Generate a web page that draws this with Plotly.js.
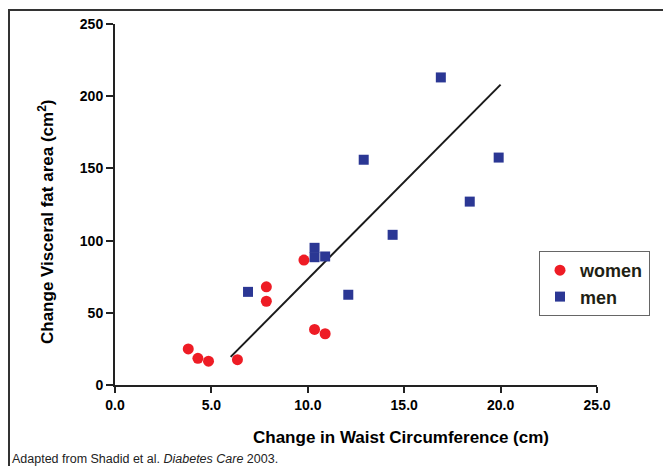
<!DOCTYPE html>
<html><head><meta charset="utf-8">
<script src="https://cdn.plot.ly/plotly-3.0.1.min.js"></script>
<style>html,body{margin:0;padding:0;background:#fff;}#chart{width:663px;height:466px;}</style>
</head><body><div id="chart"></div>
<script>
const womenX = [3.8, 4.3, 4.85, 6.35, 7.85, 7.85, 9.8, 10.35, 10.9];
const womenY = [25, 18.5, 16.5, 17.5, 68, 58, 86.5, 38.5, 35.5];
const menX = [6.9, 10.35, 10.35, 10.9, 12.1, 12.9, 14.4, 16.9, 18.4, 19.9];
const menY = [64.5, 95, 88.5, 89, 62.5, 156, 104, 213, 127, 157.5];
const trendX = [6.0, 20.0];
const trendY = [19.5, 208];
const xTicks = [0, 5, 10, 15, 20, 25];
const yTicks = [0, 50, 100, 150, 200, 250];

const FONT = 'Liberation Sans, Arial, sans-serif';
const L = 115, R = 597, T = 24, B = 385;
const px = v => (v - L) / (R - L);
const py = v => (B - v) / (B - T);

const traces = [
  {x: trendX, y: trendY, mode: 'lines', line: {color: '#1a1a1a', width: 2}, showlegend: false, hoverinfo: 'skip'},
  {x: womenX, y: womenY, mode: 'markers', name: 'women', legendgroup: 'w',
   marker: {symbol: 'circle', size: 11, color: '#ee1c25'}},
  {x: menX, y: menY, mode: 'markers', name: 'men', legendgroup: 'm',
   marker: {symbol: 'square', size: 10, color: '#2b3794'}}
];

const tickFont = {family: FONT, size: 14, weight: 'bold', color: '#000'};
const layout = {
  width: 663, height: 466,
  margin: {l: L, r: 663 - R, t: T, b: 466 - B, pad: 0},
  paper_bgcolor: '#fff', plot_bgcolor: '#fff',
  font: {family: FONT, color: '#000'},
  xaxis: {range: [0, 25], tickvals: xTicks, ticktext: xTicks.map(v => v.toFixed(1)),
    showgrid: false, zeroline: false, showline: true, linecolor: '#222', linewidth: 2,
    ticks: 'outside', ticklen: 6, tickwidth: 2, tickcolor: '#222',
    tickfont: tickFont, fixedrange: true},
  yaxis: {range: [0, 250], tickvals: yTicks,
    showgrid: false, zeroline: false, showline: true, linecolor: '#222', linewidth: 2,
    ticks: 'outside', ticklen: 7, tickwidth: 2, tickcolor: '#222',
    tickfont: tickFont, fixedrange: true},
  legend: {x: px(539), y: py(251), xanchor: 'left', yanchor: 'top',
    bordercolor: '#666', borderwidth: 1, bgcolor: '#fff',
    font: {family: FONT, size: 18, weight: 'bold', color: '#1f1f14'},
    itemwidth: 30, tracegroupgap: 0},
  annotations: [
    {text: 'Change in Waist Circumference (cm)', xref: 'paper', yref: 'paper',
     x: px(401), y: py(437), xanchor: 'center', yanchor: 'middle', showarrow: false,
     font: {family: FONT, size: 17, weight: 'bold', color: '#000'}},
    {text: 'Change Visceral fat area (cm<sup>2</sup>)', xref: 'paper', yref: 'paper',
     x: px(46), y: py(222), xanchor: 'center', yanchor: 'middle', textangle: -90, showarrow: false,
     font: {family: FONT, size: 17, weight: 'bold', color: '#000'}},
    {text: 'Adapted from Shadid et al. <i>Diabetes Care</i> 2003.', xref: 'paper', yref: 'paper',
     x: px(10), y: py(459), xanchor: 'left', yanchor: 'middle', showarrow: false,
     font: {family: FONT, size: 12.5, color: '#222'}}
  ],
  shapes: [
    {type: 'line', xref: 'paper', yref: 'paper', x0: px(9), x1: px(9), y0: py(10), y1: py(470),
     line: {color: '#333', width: 2}},
    {type: 'line', xref: 'paper', yref: 'paper', x0: px(8), x1: px(670), y0: py(10), y1: py(10),
     line: {color: '#333', width: 2}}
  ]
};

Plotly.newPlot('chart', traces, layout, {staticPlot: true, displayModeBar: false});
</script>
</body></html>
